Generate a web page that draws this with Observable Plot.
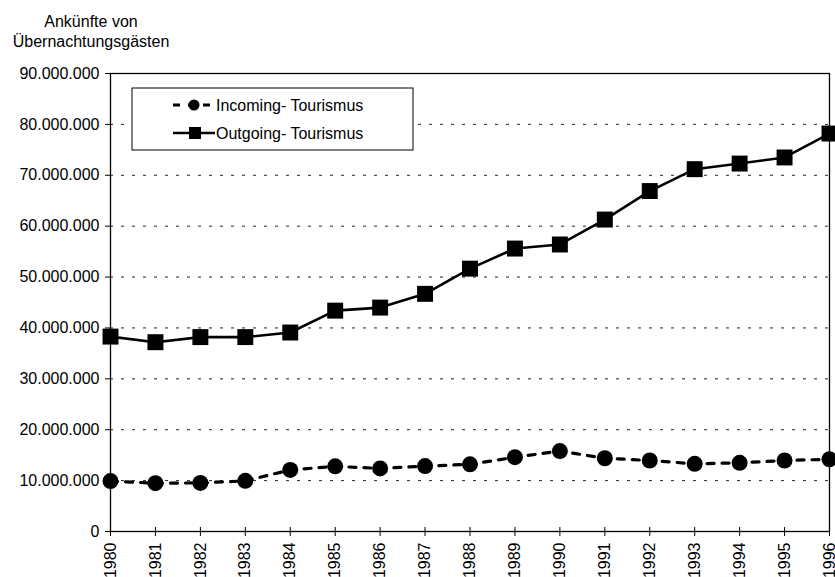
<!DOCTYPE html>
<html>
<head>
<meta charset="utf-8">
<script src="https://cdn.jsdelivr.net/npm/d3@7"></script>
<script src="https://cdn.jsdelivr.net/npm/@observablehq/plot@0.6"></script>
<style>
  html, body { margin: 0; padding: 0; background: white; }
  #chart { width: 835px; height: 577px; overflow: hidden; }
</style>
</head>
<body>
<div id="chart"></div>
<script>
// ---- data ----
const years = [1980, 1981, 1982, 1983, 1984, 1985, 1986, 1987, 1988, 1989, 1990, 1991, 1992, 1993, 1994, 1995, 1996];
const incomingMio = [9.9, 9.5, 9.55, 9.95, 12.1, 12.8, 12.4, 12.85, 13.2, 14.6, 15.8, 14.4, 13.95, 13.3, 13.5, 13.95, 14.2];
const outgoingMio = [38.3, 37.2, 38.2, 38.2, 39.1, 43.4, 44.0, 46.7, 51.65, 55.6, 56.4, 61.3, 66.9, 71.2, 72.3, 73.5, 78.2];
const yTicks = [0, 10000000, 20000000, 30000000, 40000000, 50000000, 60000000, 70000000, 80000000, 90000000];
const seriesNames = ["Incoming- Tourismus", "Outgoing- Tourismus"];
const titleLines = ["Ankünfte von", "Übernachtungsgästen"];

const incoming = years.map((y, i) => ({year: y, value: incomingMio[i] * 1e6}));
const outgoing = years.map((y, i) => ({year: y, value: outgoingMio[i] * 1e6}));

const de = d3.formatLocale({decimal: ",", thousands: ".", grouping: [3], currency: ["", "€"]});
const fmt = de.format(",");

const font = "'Liberation Sans', Arial, sans-serif";

const chart = Plot.plot({
  width: 835,
  height: 577,
  marginLeft: 110,
  marginRight: 6,
  marginTop: 73,
  marginBottom: 46,
  style: {fontFamily: font, fontSize: "16px", color: "black", background: "white"},
  x: {type: "linear", domain: [1980, 1996]},
  y: {domain: [0, 90000000]},
  marks: [
    Plot.gridY(yTicks.filter(v => v > 0 && v < 90000000), {stroke: "#222", strokeOpacity: 1, strokeWidth: 1, strokeDasharray: "3,8"}),
    Plot.frame({stroke: "black", strokeWidth: 1.3}),
    Plot.axisY(yTicks, {tickSize: 5, tickPadding: 6, tickFormat: fmt, fontSize: 16, stroke: "black", label: null}),
    Plot.axisX(years, {tickSize: 9, dy: -4, tickPadding: 6, tickRotate: -90, tickFormat: d => String(d), fontSize: 16, stroke: "black", label: null}),
    Plot.line(outgoing, {x: "year", y: "value", stroke: "black", strokeWidth: 2.6}),
    Plot.dot(outgoing, {x: "year", y: "value", symbol: "square", r: 9, fill: "black", stroke: "none"}),
    Plot.line(incoming, {x: "year", y: "value", stroke: "black", strokeWidth: 3.2, strokeDasharray: "7,8"}),
    Plot.dot(incoming, {x: "year", y: "value", symbol: "circle", r: 8, fill: "black", stroke: "none"})
  ]
});

document.getElementById("chart").appendChild(chart);

const svg = d3.select(chart);

// title (y axis caption)
const t = svg.append("text")
  .attr("text-anchor", "middle")
  .attr("font-family", font)
  .attr("font-size", 16)
  .attr("fill", "black");
titleLines.forEach((line, i) => {
  t.append("tspan").attr("x", 91).attr("y", 27 + i * 20).text(line);
});

// legend
const lg = svg.append("g").attr("text-anchor", "start");
lg.append("rect").attr("x", 132).attr("y", 88).attr("width", 281).attr("height", 62)
  .attr("fill", "white").attr("stroke", "black").attr("stroke-width", 1);
// incoming row
lg.append("line").attr("x1", 173).attr("x2", 215).attr("y1", 105).attr("y2", 105)
  .attr("stroke", "black").attr("stroke-width", 3.2).attr("stroke-dasharray", "7,8");
lg.append("circle").attr("cx", 194).attr("cy", 105).attr("r", 5.5).attr("fill", "black");
// outgoing row
lg.append("line").attr("x1", 173).attr("x2", 215).attr("y1", 133).attr("y2", 133)
  .attr("stroke", "black").attr("stroke-width", 2.6);
lg.append("rect").attr("x", 189).attr("y", 127).attr("width", 12).attr("height", 12).attr("fill", "black");
seriesNames.forEach((name, i) => {
  lg.append("text").attr("x", 216).attr("y", 105 + i * 28).attr("dy", "0.36em")
    .attr("text-anchor", "start")
    .attr("font-family", font).attr("font-size", 16).attr("fill", "black").text(name);
});
</script>
</body>
</html>
